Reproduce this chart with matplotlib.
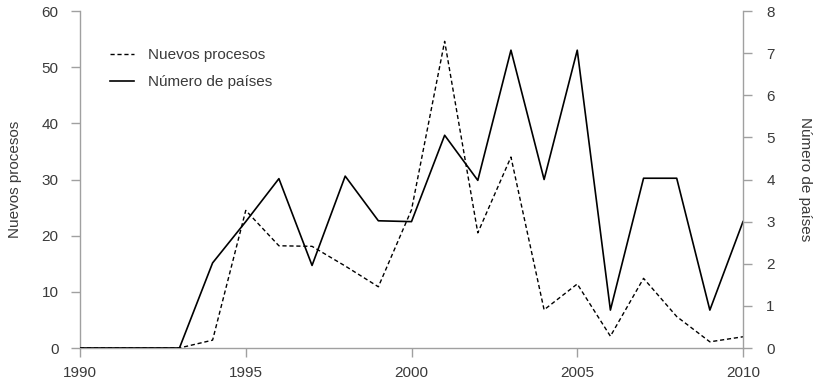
import matplotlib
matplotlib.use("Agg")
import matplotlib.pyplot as plt

years = list(range(1990, 2011))
nuevos_procesos = [0, 0, 0, 0, 1.4, 24.5, 18.2, 18.1, 14.6, 10.9, 24.6, 54.6,
                   20.5, 34.0, 6.8, 11.4, 2.1, 12.4, 5.6, 1.1, 2.0]
numero_paises = [0, 0, 0, 0, 2.02, 3.0, 4.02, 1.96, 4.08, 3.02, 3.0, 5.05,
                 3.98, 7.07, 4.0, 7.07, 0.9, 4.03, 4.03, 0.9, 3.0]

label_left = "Nuevos procesos"
label_right = "Número de países"

plt.rcParams['font.family'] = ['Liberation Sans', 'DejaVu Sans']
spine_col = '#a0a0a0'
text_col = '#3a3a3a'
fs = 11

fig = plt.figure(figsize=(8.2, 3.87), dpi=100)
ax = fig.add_axes([80/820, 1-348/387, (743-80)/820, (348-11)/387])
ax2 = ax.twinx()

l1, = ax.plot(years, nuevos_procesos, color='black', lw=1.0, linestyle=(0, (3, 2)),
              label=label_left)
l2, = ax2.plot(years, numero_paises, color='black', lw=1.2, label=label_right)

ax.set_xlim(1990, 2010)
ax.set_ylim(0, 60)
ax2.set_ylim(0, 8)
ax.set_xticks([1990, 1995, 2000, 2005, 2010])
ax.set_yticks(range(0, 61, 10))
ax2.set_yticks(range(0, 9))

for a in (ax, ax2):
    for s in a.spines.values():
        s.set_color(spine_col)
        s.set_linewidth(1.0)
    a.spines['top'].set_visible(False)
    a.tick_params(colors=spine_col, labelcolor=text_col, labelsize=fs, length=6.8, width=1.0)
ax.spines['right'].set_visible(False)
ax2.spines['left'].set_visible(False)
ax2.spines['bottom'].set_visible(False)
ax.tick_params(axis='y', pad=8.5)
ax.tick_params(axis='x', pad=6)
ax2.tick_params(axis='y', pad=10)

ax.set_ylabel(label_left, fontsize=fs, color=text_col, labelpad=14)
ax2.set_ylabel(label_right, fontsize=fs, color=text_col, rotation=270, labelpad=27)

leg = ax.legend(handles=[l1, l2], loc='upper left', bbox_to_anchor=(0.025, 0.93),
                frameon=False, fontsize=fs, handlelength=1.55, handletextpad=0.9,
                labelspacing=0.85)
for t in leg.get_texts():
    t.set_color(text_col)

fig.savefig("out.png", dpi=100)
